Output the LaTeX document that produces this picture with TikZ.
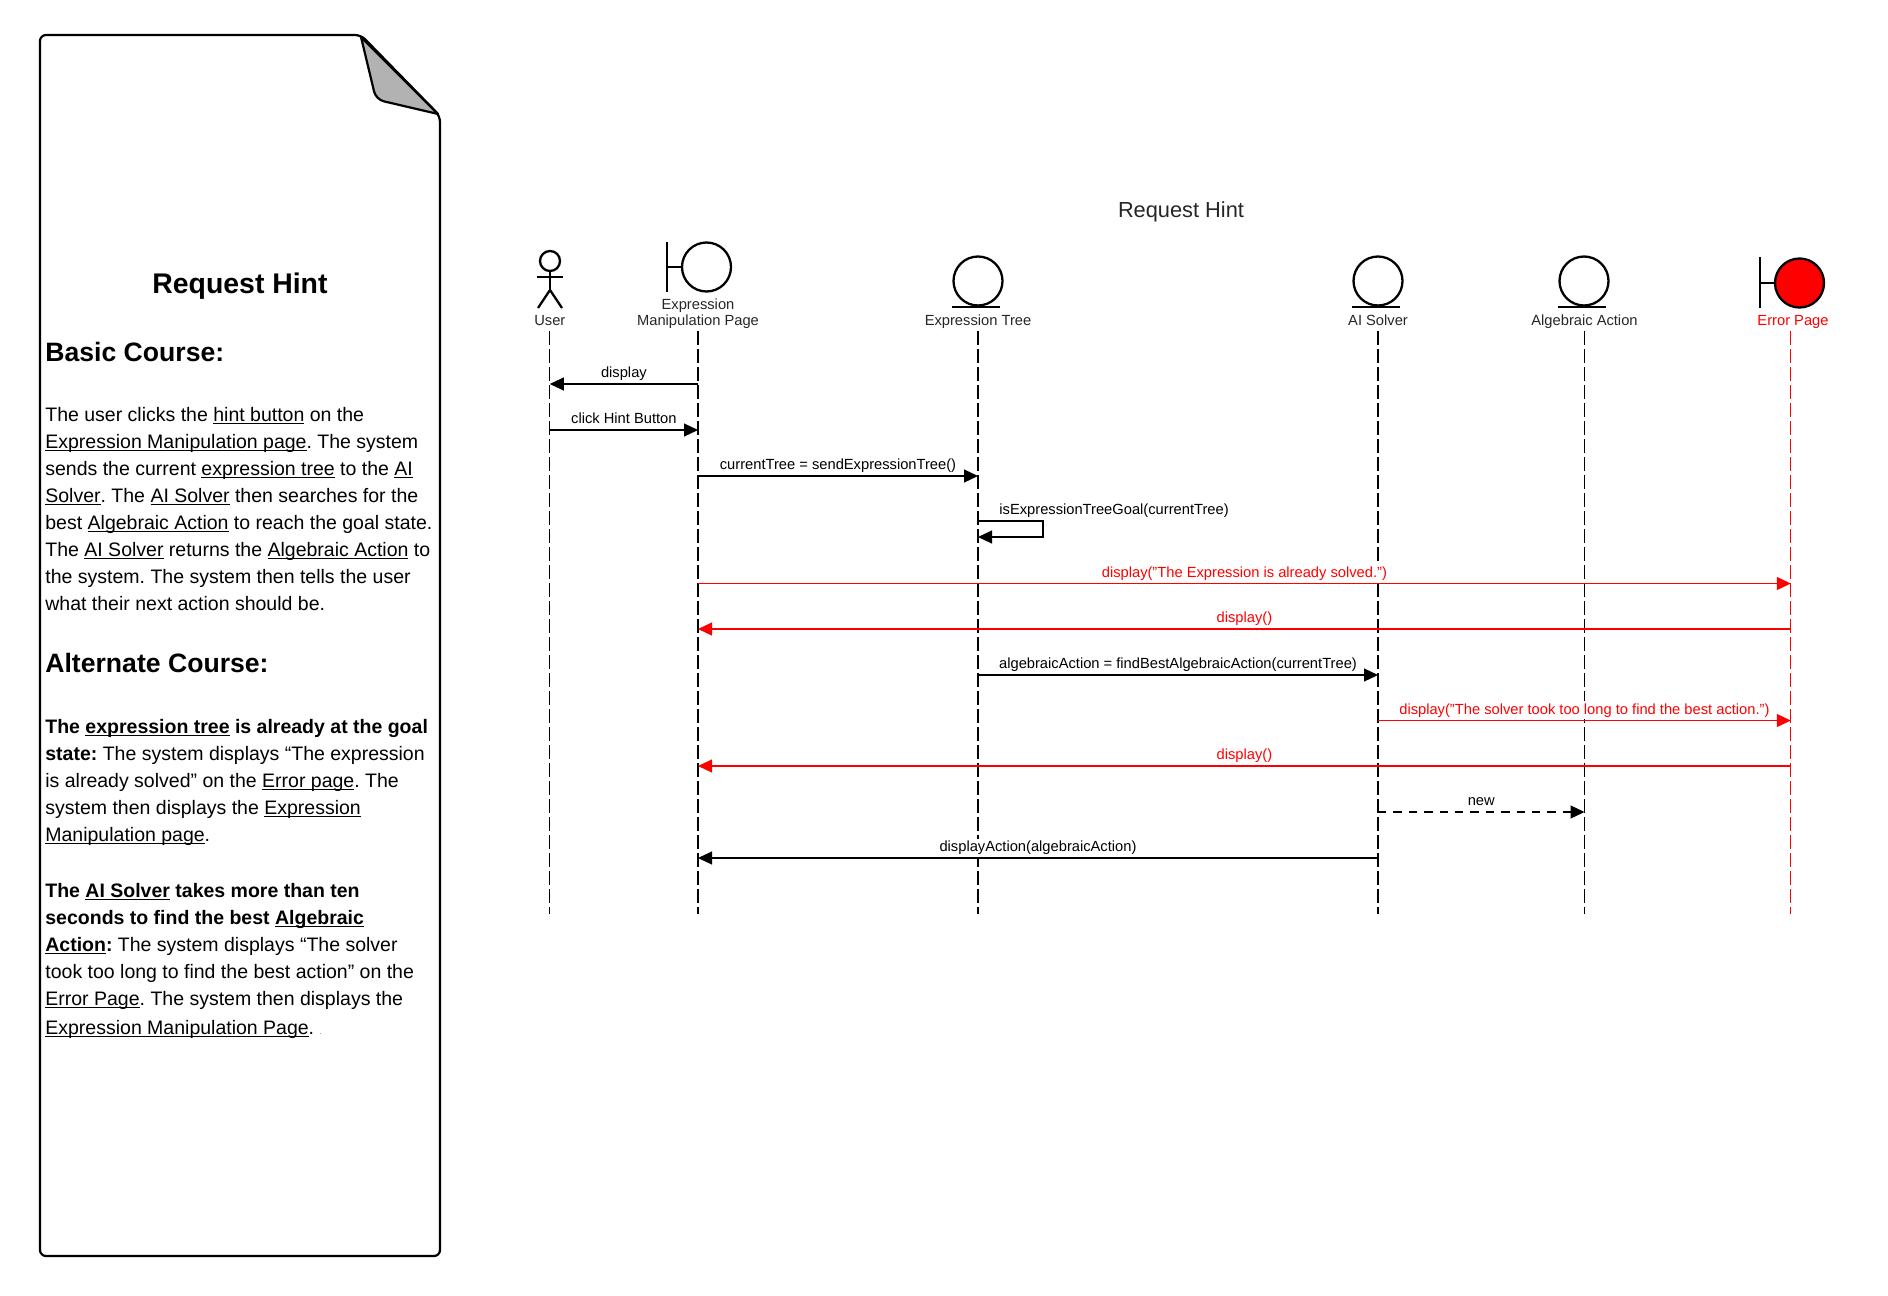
\documentclass[tikz,border=0pt]{standalone}
\usepackage{fontspec}
\setmainfont{Liberation Sans}
\usetikzlibrary{arrows.meta,positioning}
\newcommand{\lnk}[1]{\leavevmode\setbox0\hbox{#1}\rlap{\rule[-1.3pt]{\wd0}{0.65pt}}\box0\relax}

\begin{document}
\frenchspacing
\begin{tikzpicture}[
  x=0.5pt, y=-0.5pt,
  % Sheet text is set line by line so the breaks stay as printed.
  sheettext/.style={anchor=north west, align=left, inner sep=0pt,
    font=\fontsize{9.75}{13.5}\selectfont},
  sheethead/.style={anchor=base west, inner sep=0pt,
    font=\fontsize{13.3}{16}\selectfont\bfseries},
  party/.style={anchor=south, align=center, inner sep=1pt, text depth=1.5pt,
    font=\fontsize{7.35}{8}\selectfont, text=black!85},
  entity/.style={draw, circle, line width=1.15pt, minimum size=24.5pt, inner sep=0pt},
  glyph/.style={line width=1.15pt},
  life/.style={line width=0.55pt, dash pattern=on 7.2pt off 1.8pt},
  msg/.style={-{Triangle[length=7pt,width=6.5pt]}, line width=0.55pt},
  msgerr/.style={msg, red},
  msgl/.style={anchor=base, yshift=3.2pt, inner xsep=0pt, inner ysep=1pt, fill=white,
    font=\fontsize{7.35}{8}\selectfont}
]
\useasboundingbox (0,0) rectangle (1888,1295);

% sheet with folded corner
\draw[line width=1.1pt, rounded corners=3pt, fill=white]
  (40,35) -- (361,35) -- (440,116) -- (440,1256) -- (40,1256) -- cycle;
\draw[line width=1.1pt, fill=black!30, line join=round]
  (361,37) [rounded corners=4pt] -- (376,99.5) [sharp corners] -- (438,114) -- cycle;
\node[inner sep=0pt, font=\fontsize{14.2}{16}\selectfont\bfseries] (sheetTitle) at (240,286) {Request Hint};
\node[sheethead] (basicHead) at (45,361) {Basic Course:};
\node[sheettext] (basicText) at (45,407.2) {%
  The user clicks the \lnk{hint button} on the\\
  \lnk{Expression Manipulation page}. The system\\
  sends the current \lnk{expression tree} to the \lnk{AI}\\
  \lnk{Solver}. The \lnk{AI Solver} then searches for the\\
  best \lnk{Algebraic Action} to reach the goal state.\\
  The \lnk{AI Solver} returns the \lnk{Algebraic Action} to\\
  the system. The system then tells the user\\
  what their next action should be.};
\node[sheethead] (altHead) at (45,672.5) {Alternate Course:};
\node[sheettext] (altText) at (45,719.2) {%
  \textbf{The \lnk{expression tree} is already at the goal}\\
  \textbf{state:} The system displays “The expression\\
  is already solved” on the \lnk{Error page}. The\\
  system then displays the \lnk{Expression}\\
  \lnk{Manipulation page}.};
\node[sheettext] (slowText) at (45,883.2) {%
  \textbf{The \lnk{AI Solver} takes more than ten}\\
  \textbf{seconds to find the best \lnk{Algebraic}}\\
  \textbf{\lnk{Action}:} The system displays “The solver\\
  took too long to find the best action” on the\\
  \lnk{Error Page}. The system then displays the\\[0.8pt]
  \lnk{Expression Manipulation Page}. {\fontsize{3}{3}\selectfont .}};

\node[font=\fontsize{10.9}{12}\selectfont, text=black!85, inner sep=0pt] (seqTitle) at (1181,211.5) {Request Hint};

% lifeline ends and message rows
\coordinate (userE) at (549.8,914);
\coordinate (pageE) at (698,914);
\coordinate (treeE) at (978,914);
\coordinate (solverE) at (1378,914);
\coordinate (actionE) at (1584.5,914);
\coordinate (errE) at (1790.8,914);
\coordinate (loopE) at (1043,0);
\coordinate (r1) at (0,384);
\coordinate (r2) at (0,430);
\coordinate (r3) at (0,476);
\coordinate (r4) at (0,521);
\coordinate (r4b) at (0,537);
\coordinate (r5) at (0,583.5);
\coordinate (r6) at (0,629);
\coordinate (r7) at (0,675);
\coordinate (r8) at (0,720.5);
\coordinate (r9) at (0,766);
\coordinate (r10) at (0,812);
\coordinate (r11) at (0,858);

% parties
\node[party] (userL) at (549.8,331) {User};
\node[party] (pageL) at (698,331) {Expression\\Manipulation Page};
\node[party] (treeL) at (978,331) {Expression Tree};
\node[party] (solverL) at (1378,331) {AI Solver};
\node[party] (actionL) at (1584.5,331) {Algebraic Action};
\node[party, text=red] (errL) at (1793,331) {Error Page};

\node[draw, circle, line width=1.15pt, minimum size=10pt, inner sep=0pt] (userHead) at (550,261) {};
\coordinate (userHip) at (550,290);
\coordinate (userArmL) at (537,277);
\coordinate (userArmR) at (563,277);
\coordinate (userFootL) at (538,308);
\coordinate (userFootR) at (562,308);
\draw[glyph] (userHead.south) -- (userHip);
\draw[glyph] (userArmL) -- (userArmR);
\draw[glyph] (userFootL) -- (userHip) -- (userFootR);

\node[entity] (pageC) at (706.5,267) {};
\coordinate (pageBarT) at (667,242);
\coordinate (pageBarB) at (667,292);
\draw[glyph] (pageBarT) -- (pageBarB);
\draw[glyph] (pageBarT |- pageC.west) -- (pageC.west);

\node[entity] (treeC) at (978,281) {};
\draw[glyph] ([xshift=-13pt]treeC.south) -- ([xshift=11pt]treeC.south);
\node[entity] (solverC) at (1378,281) {};
\draw[glyph] ([xshift=-13pt]solverC.south) -- ([xshift=11pt]solverC.south);
\node[entity] (actionC) at (1584,281) {};
\draw[glyph] ([xshift=-13pt]actionC.south) -- ([xshift=11pt]actionC.south);

\node[entity, fill=red] (errC) at (1799.5,283) {};
\coordinate (errBarT) at (1760,257);
\coordinate (errBarB) at (1760,308);
\draw[glyph] (errBarT) -- (errBarB);
\draw[glyph] (errBarT |- errC.west) -- (errC.west);

% lifelines
\draw[life] (userL.south) -- (userE);
\draw[life] (pageL.south) -- (pageE);
\draw[life] (treeL.south) -- (treeE);
\draw[life] (solverL.south) -- (solverE);
\draw[life] (actionL.south) -- (actionE);
\draw[life, red] (errE |- errL.south) -- (errE);

% messages
\draw[msg] (pageE |- r1) -- node[msgl] {display} (userE |- r1);
\draw[msg] (userE |- r2) -- node[msgl] {click Hint Button} (pageE |- r2);
\draw[msg] (pageE |- r3) -- node[msgl] {currentTree = sendExpressionTree()} (treeE |- r3);
\draw[msg] (treeE |- r4) -- (loopE |- r4) -- (loopE |- r4b) -- (treeE |- r4b);
\node[msgl, anchor=base west, yshift=-3.2pt] (goalL) at (999,514) {isExpressionTreeGoal(currentTree)};
\draw[msgerr] (pageE |- r5) -- node[msgl] {display("The Expression is already solved.")} (errE |- r5);
\draw[msgerr] (errE |- r6) -- node[msgl] {display()} (pageE |- r6);
\draw[msg] (treeE |- r7) -- node[msgl] {algebraicAction = findBestAlgebraicAction(currentTree)} (solverE |- r7);
\draw[msgerr] (solverE |- r8) -- node[msgl] {display("The solver took too long to find the best action.")} (errE |- r8);
\draw[msgerr] (errE |- r9) -- node[msgl] {display()} (pageE |- r9);
\draw[msg, dash pattern=on 4.2pt off 3.5pt] (solverE |- r10) -- node[msgl] {new} (actionE |- r10);
\draw[msg] (solverE |- r11) -- node[msgl] {displayAction(algebraicAction)} (pageE |- r11);
\end{tikzpicture}
\end{document}
